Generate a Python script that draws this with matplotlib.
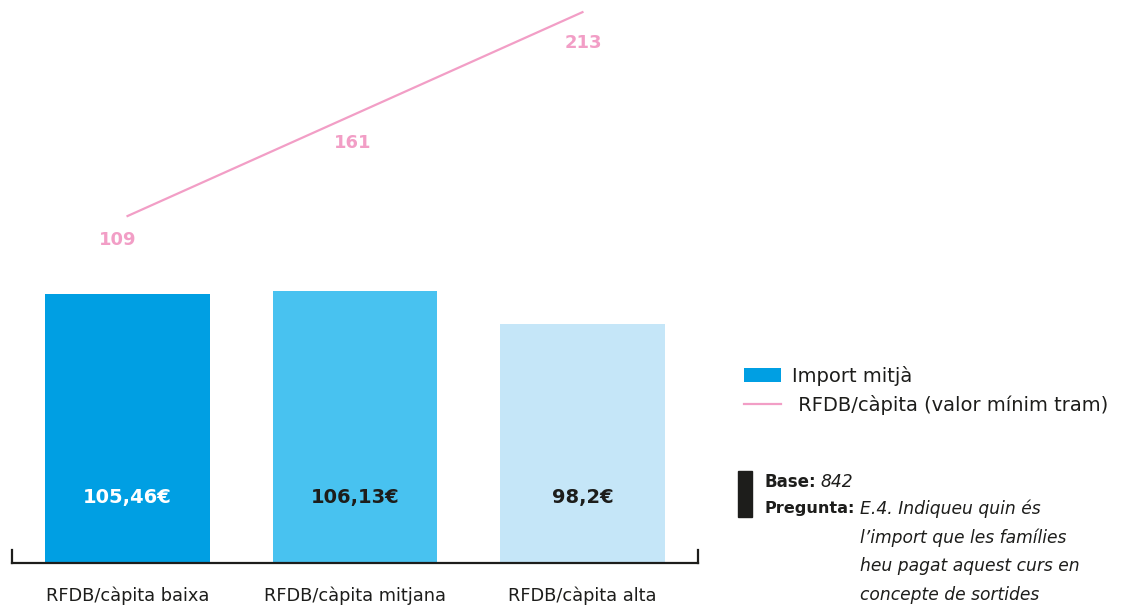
import numpy as np
import matplotlib
matplotlib.use("Agg")
import matplotlib.pyplot as plt
from matplotlib.patches import Rectangle

plt.rcParams['font.family'] = ['DejaVu Sans']

# data
categories = ["RFDB/càpita baixa", "RFDB/càpita mitjana", "RFDB/càpita alta"]
import_mitja = [105.46, 106.13, 98.2]
import_labels = ["105,46€", "106,13€", "98,2€"]
rfdb_min = [109, 161, 213]

bar_colors = ["#009fe3", "#48c2f0", "#c5e6f8"]
label_colors = ["white", "#1d1d1b", "#1d1d1b"]
pink = "#f29ec6"
dark = "#1d1d1b"

fig = plt.figure(figsize=(11.33, 6.06), dpi=100)
ax = fig.add_axes([12/1133, 1-563/606, 686/1133, 563/606])

x = np.arange(len(categories))
bars = ax.bar(x, import_mitja, width=0.725, color=bar_colors, label="Import mitjà")
ax.set_xlim(-0.508, 2.508)
ax.set_ylim(40, 177)

for i, (lab, c) in enumerate(zip(import_labels, label_colors)):
    ax.text(i, 0.117, lab, transform=ax.get_xaxis_transform(), ha="center", va="center",
            fontsize=14, fontweight="bold", color=c)

# bracket-like axis
ax.spines["top"].set_visible(False)
for s in ["left", "right", "bottom"]:
    ax.spines[s].set_color(dark)
    ax.spines[s].set_linewidth(1.6)
ax.spines["left"].set_bounds(40, 43.2)
ax.spines["right"].set_bounds(40, 43.2)
ax.set_yticks([])
ax.set_xticks(x)
ax.set_xticklabels(categories, fontsize=12.8, color=dark)
ax.tick_params(axis="x", length=0, pad=17)

# line on secondary scale
ax2 = ax.twinx()
line, = ax2.plot(x, rfdb_min, color=pink, linewidth=1.6, label=" RFDB/càpita (valor mínim tram)")
ax2.set_ylim(-68, 219.2)
ax2.set_yticks([])
for s in ax2.spines.values():
    s.set_visible(False)
offsets = [(-7, -17), (-2, -21), (1, -22)]
for i, (v, off) in enumerate(zip(rfdb_min, offsets)):
    ax2.annotate(str(v), (i, v), xytext=off, textcoords="offset points", ha="center", va="center",
                 fontsize=13, fontweight="bold", color=pink)

fig.legend(handles=[bars, line], loc="upper left", bbox_to_anchor=(744/1133, 1-366/606),
           frameon=False, fontsize=14, handlelength=1.9, handleheight=0.72, handletextpad=0.55,
           labelspacing=0.45, borderaxespad=0, borderpad=0, labelcolor=dark)

# base / pregunta note
fig.patches.append(Rectangle((738/1133, 1-517/606), 14/1133, 46/606, transform=fig.transFigure,
                             color=dark))
fig.text(765/1133, 1-482/606, "Base:", fontsize=12, fontweight="bold", color=dark, va="center")
fig.text(820/1133, 1-482/606, "842", fontsize=12.3, style="italic", color=dark, va="center")
fig.text(765/1133, 1-509/606, "Pregunta:", fontsize=11.6, fontweight="bold", color=dark, va="center")
q_lines = ["E.4. Indiqueu quin és", "l’import que les famílies", "heu pagat aquest curs en",
           "concepte de sortides"]
for k, t in enumerate(q_lines):
    fig.text(860/1133, 1-(509 + 28.5*k)/606, t, fontsize=12.3, style="italic", color=dark, va="center")

fig.savefig("out.png", dpi=100)
